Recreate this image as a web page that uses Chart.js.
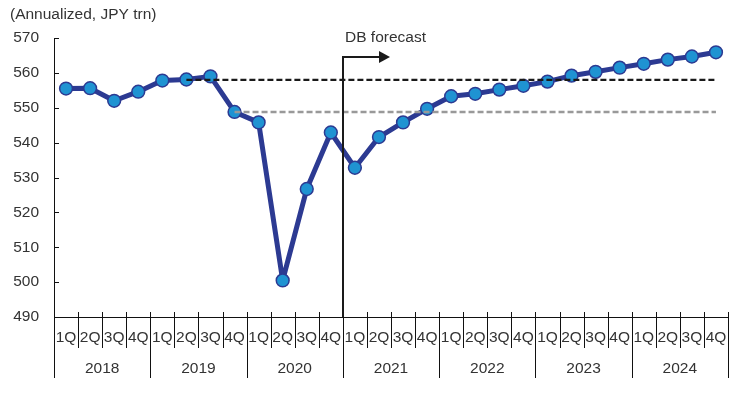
<!DOCTYPE html>
<html>
<head>
<meta charset="utf-8">
<script src="https://cdn.jsdelivr.net/npm/chart.js@4/dist/chart.umd.min.js"></script>
<style>
  html, body { margin: 0; padding: 0; background: #fff; }
  #wrap { width: 746px; height: 396px; }
</style>
</head>
<body>
<div id="wrap"><canvas id="c" width="746" height="396"></canvas></div>
<script>
// ---- data ----
const years = ['2018', '2019', '2020', '2021', '2022', '2023', '2024'];
const quarters = ['1Q', '2Q', '3Q', '4Q'];
const gdp = [555.5, 555.6, 552.0, 554.6, 557.8, 558.1, 559.0, 548.8,
             545.8, 500.5, 526.7, 542.9, 532.8, 541.6, 545.8, 549.7,
             553.3, 554.0, 555.2, 556.3, 557.5, 559.2, 560.3, 561.5,
             562.6, 563.8, 564.7, 565.9];
const peakLevel = 558.0;      // black dashed reference
const peakStart = 5;
const preTaxLevel = 548.8;    // grey dashed reference
const preTaxStart = 7;
const forecastStartIndex = 12;
const yMin = 490, yMax = 570, yStep = 10;
const unitLabel = '(Annualized, JPY trn)';
const forecastLabel = 'DB forecast';

// ---- derived ----
const categories = [];
years.forEach(y => quarters.forEach(q => categories.push(q)));
const peakLine = gdp.map((v, i) => i >= peakStart ? peakLevel : null);
const preTaxLine = gdp.map((v, i) => i >= preTaxStart ? preTaxLevel : null);

const FONT = 'Liberation Sans, Arial, Helvetica, sans-serif';
const FS = 15.5;
const TXT = '#333333';

const decor = {
  id: 'decor',
  afterDraw(chart) {
    const ctx = chart.ctx;
    const xs = chart.scales.x, ys = chart.scales.y;
    const area = chart.chartArea;
    const step = xs.getPixelForValue(1) - xs.getPixelForValue(0);
    const boundary = k => xs.getPixelForValue(0) - step / 2 + k * step;
    ctx.save();
    ctx.strokeStyle = '#111';
    ctx.lineWidth = 1;
    // category separators
    for (let k = 0; k <= categories.length; k++) {
      const x = Math.round(boundary(k)) + 0.5;
      ctx.beginPath();
      if (k % quarters.length === 0) {
        ctx.moveTo(x, k === 0 ? area.bottom : area.bottom - 5);
        ctx.lineTo(x, area.bottom + 61);
      } else {
        ctx.moveTo(x, area.bottom - 5);
        ctx.lineTo(x, area.bottom + 31);
      }
      ctx.stroke();
    }
    // inward y ticks
    for (let v = yMin; v <= yMax; v += yStep) {
      const y = Math.round(ys.getPixelForValue(v)) + 0.5;
      ctx.beginPath();
      ctx.moveTo(area.left, y);
      ctx.lineTo(area.left + 5, y);
      ctx.stroke();
    }
    // forecast marker
    const fx = Math.round(boundary(forecastStartIndex));
    const topY = 57;
    ctx.strokeStyle = '#1a1a1a';
    ctx.lineWidth = 2;
    ctx.beginPath();
    ctx.moveTo(fx, area.bottom);
    ctx.lineTo(fx, topY);
    ctx.lineTo(fx + 38, topY);
    ctx.stroke();
    ctx.fillStyle = '#1a1a1a';
    ctx.beginPath();
    ctx.moveTo(fx + 36, topY - 6);
    ctx.lineTo(fx + 47, topY);
    ctx.lineTo(fx + 36, topY + 6);
    ctx.closePath();
    ctx.fill();
    ctx.font = FS + 'px ' + FONT;
    ctx.fillStyle = TXT;
    ctx.textAlign = 'left';
    ctx.textBaseline = 'middle';
    ctx.fillText(forecastLabel, fx + 2, 38);
    // unit label
    ctx.fillText(unitLabel, 10, 15);
    ctx.restore();
  }
};

new Chart(document.getElementById('c'), {
  type: 'line',
  data: {
    labels: categories,
    datasets: [
      {
        data: peakLine,
        borderColor: '#1a1a1a',
        borderWidth: 2.2,
        borderDash: [6, 3],
        pointRadius: 0,
        fill: false,
        spanGaps: false
      },
      {
        data: preTaxLine,
        borderColor: '#999999',
        borderWidth: 2.5,
        borderDash: [6, 3],
        pointRadius: 0,
        fill: false
      },
      {
        data: gdp,
        borderColor: '#2c3a92',
        borderWidth: 5,
        borderJoinStyle: 'round',
        tension: 0,
        pointRadius: 6.4,
        pointBackgroundColor: '#1f93d2',
        pointBorderColor: '#2c3a92',
        pointBorderWidth: 1.5,
        fill: false
      }
    ]
  },
  options: {
    responsive: false,
    animation: false,
    devicePixelRatio: 1,
    layout: { padding: { top: 38, right: 18, bottom: 18, left: 0 } },
    plugins: { legend: { display: false }, tooltip: { enabled: false } },
    scales: {
      y: {
        min: yMin, max: yMax,
        ticks: { stepSize: yStep, font: { size: FS, family: FONT }, color: TXT, padding: 7 },
        grid: { display: false },
        border: { display: true, color: '#111', width: 1 },
        afterFit: s => { s.width = 54; }
      },
      x: {
        type: 'category',
        offset: true,
        ticks: { font: { size: FS, family: FONT }, color: TXT, padding: 3, maxRotation: 0, autoSkip: false },
        grid: { display: false },
        border: { display: true, color: '#111', width: 1 },
        afterFit: s => { s.height = 31; }
      },
      x2: {
        type: 'category',
        position: 'bottom',
        labels: years,
        offset: true,
        ticks: { font: { size: FS, family: FONT }, color: TXT, padding: 3, maxRotation: 0, autoSkip: false },
        grid: { display: false },
        border: { display: false },
        afterFit: s => { s.height = 30; }
      }
    }
  },
  plugins: [decor]
});
</script>
</body>
</html>
